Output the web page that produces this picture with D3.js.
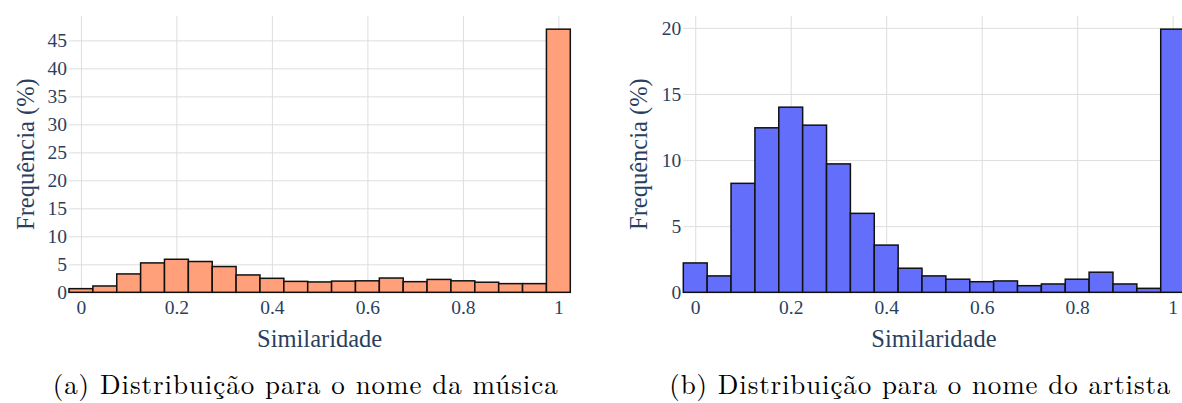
<!DOCTYPE html>
<html>
<head>
<meta charset="utf-8">
<script src="https://cdn.jsdelivr.net/npm/d3@7"></script>
<style>
	body { margin: 0; background: #fff; }
	svg { display: block; }
	.tick text { font-family: "Liberation Serif", "Times New Roman", serif; fill: #2a3f5f; }
</style>
</head>
<body>
<svg id="mainsvg" width="1182" height="403"></svg>
<script>
// bin centres of the similarity histogram (bin width 0.05)
var binCenters = [0, 0.05, 0.1, 0.15, 0.2, 0.25, 0.3, 0.35, 0.4, 0.45, 0.5,
	0.55, 0.6, 0.65, 0.7, 0.75, 0.8, 0.85, 0.9, 0.95, 1];
var binWidth = 0.05;

// frequency (%) per bin
var songFreq = [0.65, 1.13, 3.28, 5.25, 5.9, 5.5, 4.6, 3.1, 2.5, 1.95, 1.85,
	2.0, 2.05, 2.55, 1.9, 2.3, 2.05, 1.8, 1.55, 1.55, 47.0];
var artistFreq = [2.22, 1.24, 8.24, 12.44, 14.0, 12.64, 9.71, 5.97, 3.57, 1.82, 1.24,
	0.99, 0.8, 0.86, 0.5, 0.63, 0.99, 1.52, 0.63, 0.3, 19.9];

var xTicks = [0, 0.2, 0.4, 0.6, 0.8, 1];
var songYTicks = [0, 5, 10, 15, 20, 25, 30, 35, 40, 45];
var artistYTicks = [0, 5, 10, 15, 20];

var xTitle = 'Similaridade';
var yTitle = 'Frequência (%)';
var captions = ['(a) Distribuição para o nome da música', '(b) Distribuição para o nome do artista'];

var svg = d3.select('#mainsvg');

function Histogram(opt) {
	this.opt = opt;
	this.w = 501.3;
	this.h = 276.3;
	this.layer = svg.append('g').attr('transform', 'translate(' + opt.left + ',' + opt.top + ')');
}

Histogram.prototype.Render = function() {
	var _this = this, o = this.opt;
	var x = d3.scaleLinear()
		.domain([binCenters[0] - binWidth / 2, binCenters[binCenters.length - 1] + binWidth / 2])
		.range([0, _this.w]);
	var y = d3.scaleLinear()
		.domain([0, d3.max(o.values) * 1.05])
		.range([_this.h, 0]);

	// x gridlines + labels
	var gx = this.layer.append('g')
		.attr('transform', 'translate(0,' + _this.h + ')')
		.call(d3.axisBottom(x).tickValues(xTicks).tickFormat(d3.format('')).tickSize(-_this.h).tickPadding(8));
	// y gridlines + labels
	var gy = this.layer.append('g')
		.call(d3.axisLeft(y).tickValues(o.yTicks).tickFormat(d3.format('')).tickSize(-_this.w).tickPadding(2));

	[gx, gy].forEach(function(g) {
		g.select('.domain').remove();
		g.selectAll('.tick line').attr('stroke', '#dedede').attr('stroke-width', 1);
		g.selectAll('.tick text').attr('font-size', 19.5).attr('fill', '#2a3f5f');
	});

	this.layer.selectAll('rect.bar')
		.data(o.values)
		.enter()
		.append('rect')
		.attr('class', 'bar')
		.attr('x', function(d, i) {return x(binCenters[i] - binWidth / 2);})
		.attr('width', function(d, i) {return x(binCenters[i] + binWidth / 2) - x(binCenters[i] - binWidth / 2);})
		.attr('y', function(d) {return y(d);})
		.attr('height', function(d) {return _this.h - y(d);})
		.attr('fill', o.color)
		.attr('stroke', '#111')
		.attr('stroke-width', 1.5);

	var font = '"Liberation Serif", "Times New Roman", serif';
	this.layer.append('text')
		.attr('x', _this.w / 2)
		.attr('y', _this.h + 54.5)
		.attr('text-anchor', 'middle')
		.attr('font-family', font)
		.attr('font-size', 24.5)
		.attr('fill', '#2a3f5f')
		.text(xTitle);
	this.layer.append('text')
		.attr('transform', 'translate(' + o.yTitleX + ',' + (_this.h / 2) + ') rotate(-90)')
		.attr('text-anchor', 'middle')
		.attr('dominant-baseline', 'central')
		.attr('font-family', font)
		.attr('font-size', 24.5)
		.attr('fill', '#2a3f5f')
		.text(yTitle);

	// subfigure caption (LaTeX style)
	svg.append('text')
		.attr('x', o.capX)
		.attr('y', 394)
		.attr('font-family', '"Latin Modern Roman", "CMU Serif", "Liberation Serif", serif')
		.attr('font-size', 27)
		.attr('textLength', o.capW)
		.attr('lengthAdjust', 'spacing')
		.attr('fill', '#000')
		.text(o.caption);
}

var left = new Histogram({left: 69, top: 16, values: songFreq, yTicks: songYTicks, color: '#FFA07A',
	yTitleX: -44, caption: captions[0], capX: 52.7, capW: 505});
left.Render();
var right = new Histogram({left: 683.3, top: 16, values: artistFreq, yTicks: artistYTicks, color: '#636EFA',
	yTitleX: -45, caption: captions[1], capX: 669.3, capW: 501});
right.Render();
</script>
</body>
</html>
